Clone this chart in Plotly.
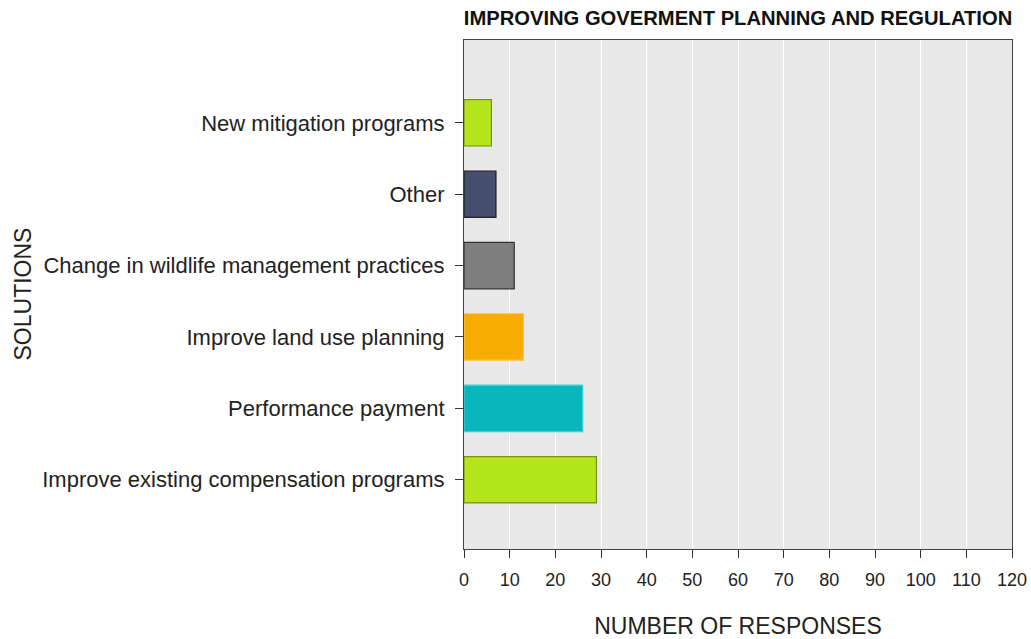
import plotly.graph_objects as go

# bottom-to-top order
solutions = [
    "Improve existing compensation programs",
    "Performance payment",
    "Improve land use planning",
    "Change in wildlife management practices",
    "Other",
    "New mitigation programs",
]
responses = [29, 26, 13, 11, 7, 6]
fill_colors = ["#b5e61d", "#08b6bc", "#f6ac00", "#7f7f7f", "#474f6f", "#b5e61d"]
line_colors = ["#7f8f10", "#40d0d8", "#ffc040", "#303030", "#202020", "#7f8f10"]

x_ticks = list(range(0, 130, 10))

FONT = "Liberation Sans, Arial, sans-serif"

W, H = 1031, 639
L, R, T, B = 464, 19, 40, 90

fig = go.Figure(go.Bar(
    x=responses,
    y=solutions,
    orientation="h",
    width=0.65,
    marker=dict(color=fill_colors, line=dict(color=line_colors, width=1.2)),
))

fig.update_layout(
    width=W, height=H,
    margin=dict(l=L, r=R, t=T, b=B),
    paper_bgcolor="white",
    plot_bgcolor="#e8e8e8",
    showlegend=False,
    font=dict(family=FONT, color="#222222"),
    title=dict(
        text="<b>IMPROVING GOVERMENT PLANNING AND REGULATION</b>",
        x=0.5, xref="paper", xanchor="center",
        y=1 - 18 / H, yref="container", yanchor="middle",
        font=dict(size=20.2, family=FONT, color="#111111"),
    ),
    xaxis=dict(
        range=[0, 120], tickvals=x_ticks, showgrid=True, gridcolor="white", gridwidth=1.2,
        zeroline=False, ticks="outside", ticklen=8, tickcolor="#333333",
        showline=True, linecolor="#444444", linewidth=1.2, mirror=True,
        tickfont=dict(size=18, family=FONT, color="#222222"),
        ticklabelstandoff=6, ticklabeloverflow="allow", automargin=False,
        title=dict(text="NUMBER OF RESPONSES", standoff=30,
                   font=dict(size=23, family=FONT, color="#222222")),
    ),
    yaxis=dict(
        type="category", categoryorder="array", categoryarray=solutions,
        range=[-0.97, 6.16], showgrid=False, zeroline=False,
        ticks="outside", ticklen=8, tickcolor="#333333",
        showline=True, linecolor="#444444", linewidth=1.2, mirror=True,
        tickfont=dict(size=22, family=FONT, color="#222222"),
        ticklabelstandoff=6, automargin=False,
    ),
    annotations=[dict(
        text="SOLUTIONS", textangle=-90,
        x=(22 - L) / (W - L - R), xref="paper", xanchor="center",
        y=0.5, yref="paper",
        showarrow=False, font=dict(size=23, family=FONT, color="#222222"),
    )],
)

# drop the default page margin so the figure fills the window exactly
fig.write_html(
    "out.html",
    config={"displayModeBar": False},
    post_script="document.body.style.margin = '0';",
)
